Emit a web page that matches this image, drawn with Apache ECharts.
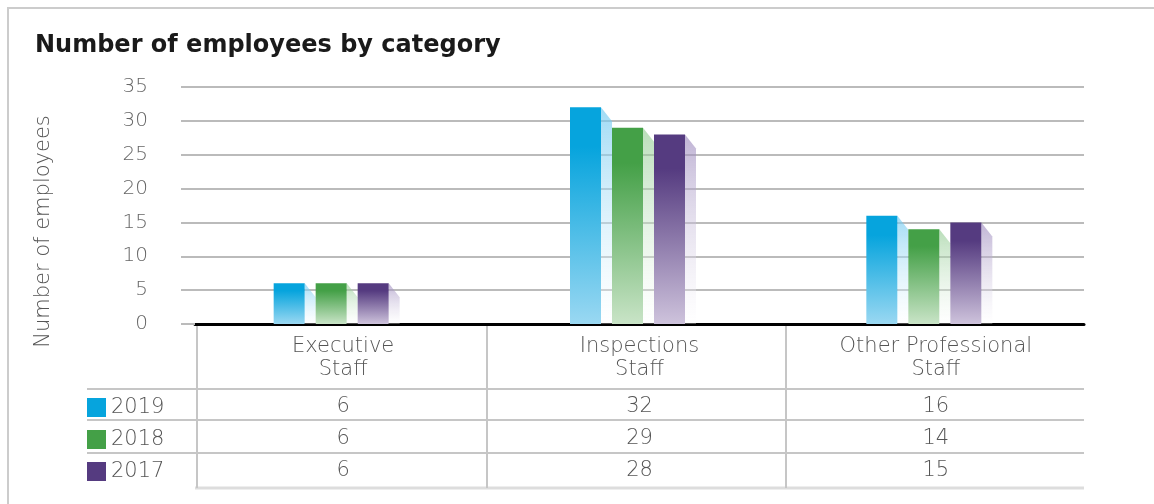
<!DOCTYPE html>
<html>
<head>
<meta charset="utf-8">
<script src="https://cdn.jsdelivr.net/npm/echarts@6/dist/echarts.min.js"></script>
<style>
  html, body { margin: 0; padding: 0; background: #fff; }
  #main { width: 1154px; height: 504px; }
</style>
</head>
<body>
<div id="main"></div>
<script>
// data
var categories = ['Executive\nStaff', 'Inspections\nStaff', 'Other Professional\nStaff'];
var years = ['2019', '2018', '2017'];
var v2019 = [6, 32, 16];
var v2018 = [6, 29, 14];
var v2017 = [6, 28, 15];
var yTicks = [0, 5, 10, 15, 20, 25, 30, 35];

var seriesValues = [v2019, v2018, v2017];
var topColors = ['#06a4dd', '#44a047', '#553b80'];
var lowColors = ['#9ad8f2', '#c9e4c7', '#cec3dc'];
var shadeColors = ['rgba(110,200,240,0.65)', 'rgba(140,200,140,0.6)', 'rgba(150,130,185,0.6)'];

var font = 'DejaVu Sans';
var textGrey = '#555';

var BAR_W = 31, STEP = 42, SHIFT = -12, SHADE_W = 11, SHADE_DROP = 14;

function makeRender(si) {
  return function (params, api) {
    var c = api.coord([api.value(0), api.value(1)]);
    var base = api.coord([api.value(0), 0]);
    var x = c[0] + SHIFT + (si - 1) * STEP - BAR_W / 2;
    var y = c[1];
    var h = base[1] - y;
    var r = x + BAR_W;
    return {
      type: 'group',
      children: [{
        type: 'polygon',
        shape: { points: [[r, y], [r + SHADE_W, y + SHADE_DROP], [r + SHADE_W, base[1]], [r, base[1]]] },
        style: {
          fill: new echarts.graphic.LinearGradient(0, 0, 0, 1, [
            { offset: 0, color: shadeColors[si] },
            { offset: 1, color: 'rgba(255,255,255,0.3)' }
          ])
        }
      }, {
        type: 'rect',
        shape: { x: x, y: y, width: BAR_W, height: h },
        style: {
          fill: new echarts.graphic.LinearGradient(0, 0, 0, 1, [
            { offset: 0, color: topColors[si] },
            { offset: 0.18, color: topColors[si] },
            { offset: 1, color: lowColors[si] }
          ])
        }
      }]
    };
  };
}

var series = years.map(function (yr, si) {
  return {
    name: yr,
    type: 'custom',
    xAxisIndex: 0,
    yAxisIndex: 0,
    itemStyle: { color: topColors[si] },
    renderItem: makeRender(si),
    encode: { x: 0, y: 1 },
    data: seriesValues[si].map(function (v, i) { return [i, v]; }),
    z: 3
  };
});

// table rows: one extra category axis per year
var rowOffsets = [83, 115, 147];
var tableAxes = years.map(function (yr, si) {
  return {
    type: 'category',
    gridIndex: 0,
    position: 'bottom',
    offset: rowOffsets[si],
    data: seriesValues[si].map(String),
    axisLine: { show: false },
    axisTick: { show: false },
    splitLine: { show: false },
    axisLabel: {
      margin: 0, verticalAlign: 'middle',
      fontSize: 21, color: textGrey, fontFamily: font, fontWeight: 200
    }
  };
});

var lineColor = '#c6c6c6';
function hline(x1, x2, y, w, col) {
  return { type: 'line', shape: { x1: x1, y1: y, x2: x2, y2: y }, style: { stroke: col || lineColor, lineWidth: w || 2 }, z: 1 };
}
function vline(x, y1, y2) {
  return { type: 'line', shape: { x1: x, y1: y1, x2: x, y2: y2 }, style: { stroke: lineColor, lineWidth: 2 }, z: 1 };
}

var chart = echarts.init(document.getElementById('main'), null, { renderer: 'canvas' });
chart.setOption({
  animation: false,
  title: {
    text: 'Number of employees by category',
    left: 30, top: 29,
    textStyle: { fontFamily: font, fontSize: 24, fontWeight: 'bold', color: '#1a1a1a' }
  },
  legend: {
    data: years,
    orient: 'vertical',
    left: 87, top: 397, padding: 0,
    itemWidth: 19, itemHeight: 19, itemGap: 11,
    icon: 'rect',
    textStyle: { fontFamily: font, fontSize: 21, color: textGrey, fontWeight: 200 }
  },
  grid: { left: 195, right: 70, top: 87, bottom: 180 },
  xAxis: [{
    type: 'category',
    data: categories,
    axisLine: { lineStyle: { color: '#000', width: 3 } },
    axisTick: { show: false },
    axisLabel: {
      margin: 11, fontSize: 21, lineHeight: 23,
      color: textGrey, fontFamily: font, fontWeight: 200
    }
  }].concat(tableAxes),
  yAxis: {
    type: 'value',
    min: yTicks[0], max: yTicks[yTicks.length - 1], interval: 5,
    name: 'Number of employees',
    nameLocation: 'middle',
    nameGap: 141,
    nameTextStyle: { fontFamily: font, fontSize: 21, color: textGrey, fontWeight: 200, padding: [0, 52, 0, 0] },
    axisLine: { show: false },
    axisTick: { show: true, length: 14, lineStyle: { color: '#bbb', width: 2 } },
    axisLabel: {
      margin: 47, fontSize: 20, color: '#666', fontFamily: font, fontWeight: 200,
      formatter: function (v) { return yTicks.indexOf(v) >= 0 ? String(v) : ''; }
    },
    splitLine: { lineStyle: { color: '#bbb', width: 2 } }
  },
  graphic: [
    { type: 'polyline', shape: { points: [[8, 504], [8, 8], [1154, 8]] }, style: { stroke: '#ccc', lineWidth: 2, fill: null } },
    hline(87, 1084, 389),
    hline(87, 1084, 420),
    hline(87, 1084, 453),
    hline(195, 1084, 488, 3, '#ddd'),
    vline(197, 326, 488),
    vline(487, 326, 488),
    vline(786, 326, 488)
  ],
  series: series
});
</script>
</body>
</html>
